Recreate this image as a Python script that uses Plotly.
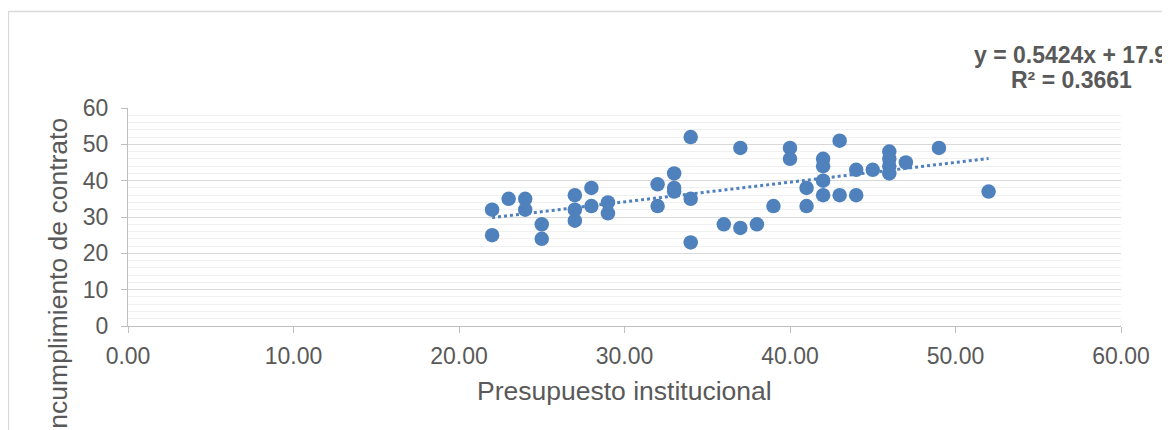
import plotly.graph_objects as go

# Data
presupuesto = [22, 22, 23, 24, 24, 25, 25, 27, 27, 27, 28, 28, 29, 29, 32, 32,
               33, 33, 33, 34, 34, 34, 36, 37, 37, 38, 39, 40, 40, 41, 41,
               42, 42, 42, 42, 43, 43, 44, 44, 45, 46, 46, 46, 46, 47, 49, 52]
incumplimiento = [32, 25, 35, 35, 32, 28, 24, 36, 32, 29, 38, 33, 34, 31, 39, 33,
                  42, 38, 37, 52, 35, 23, 28, 49, 27, 28, 33, 49, 46, 38, 33,
                  46, 44, 40, 36, 51, 36, 43, 36, 43, 48, 46, 44, 42, 45, 49, 37]

trend_slope = 0.5424
trend_intercept = 17.9
trend_x = [min(presupuesto), max(presupuesto)]
trend_y = [trend_slope * v + trend_intercept for v in trend_x]

x_ticks = [0, 10, 20, 30, 40, 50, 60]
x_ticklabels = ["0.00", "10.00", "20.00", "30.00", "40.00", "50.00", "60.00"]
y_ticks = [0, 10, 20, 30, 40, 50, 60]

eq_line1 = "y = 0.5424x + 17.9"
eq_line2 = "R² = 0.3661"
x_title = "Presupuesto institucional"
y_title = "Incumplimiento de contrato"

BLUE = "#4F81BD"
TXT = "#595959"
FONT = "Liberation Sans, Arial, sans-serif"

OFF = 8  # page body margin
W, H = 1170, 430
# target plot area in window pixels
PX0, PX1, PY0, PY1 = 128, 1121, 108, 326
L = PX0 - OFF
T = PY0 - OFF
pw = PX1 - PX0
ph = PY1 - PY0
R = W - L - pw
B = H - T - ph


def px_x(p):
    return (p - PX0) / pw


def px_y(p):
    return (PY1 - p) / ph


fig = go.Figure()
fig.add_trace(go.Scatter(
    x=trend_x, y=trend_y, mode="lines",
    line=dict(color=BLUE, width=3, dash="dot"),
    hoverinfo="skip", showlegend=False))
fig.add_trace(go.Scatter(
    x=presupuesto, y=incumplimiento, mode="markers",
    marker=dict(color=BLUE, size=14.5, line=dict(width=0)),
    showlegend=False))

fig.update_layout(
    width=W, height=H,
    margin=dict(l=L, r=R, t=T, b=B, pad=0),
    paper_bgcolor="white", plot_bgcolor="white",
    font=dict(family=FONT, color=TXT, size=23),
    xaxis=dict(range=[0, 60], tickvals=x_ticks, ticktext=x_ticklabels,
               showgrid=False, zeroline=False, showline=True,
               linecolor="#BFBFBF", linewidth=1.3,
               ticks="outside", ticklen=6, tickcolor="#BFBFBF",
               ticklabelstandoff=3,
               tickfont=dict(size=23, color=TXT, family=FONT)),
    yaxis=dict(range=[0, 60], tickvals=y_ticks,
               showgrid=True, gridcolor="#D9D9D9", gridwidth=1.3,
               zeroline=False, showline=True,
               linecolor="#BFBFBF", linewidth=1.3,
               ticks="outside", ticklen=6, tickcolor="#BFBFBF",
               ticklabelstandoff=8,
               tickfont=dict(size=23, color=TXT, family=FONT),
               minor=dict(dtick=2, showgrid=True, gridcolor="#F0F0F0",
                          gridwidth=1.3)),
)

# chart frame
fig.add_shape(type="rect", xref="paper", yref="paper",
              x0=px_x(8.5), x1=1.3, y0=-1.0, y1=px_y(11.5),
              line=dict(color="#D9D9D9", width=1.3), fillcolor="rgba(0,0,0,0)",
              layer="below")

fig.add_annotation(text=x_title, xref="paper", yref="paper",
                   x=px_x(624.5), y=px_y(391), xanchor="center", yanchor="middle",
                   showarrow=False, font=dict(size=26.5, color=TXT, family=FONT))
fig.add_annotation(text=y_title, xref="paper", yref="paper", textangle=-90,
                   x=px_x(58), y=px_y(277), xanchor="center", yanchor="middle",
                   showarrow=False, font=dict(size=26.5, color=TXT, family=FONT))
fig.add_annotation(text="<b>" + eq_line1 + "</b>", xref="paper", yref="paper",
                   x=px_x(972), y=px_y(55), xanchor="left", yanchor="middle",
                   showarrow=False, font=dict(size=23, color=TXT, family=FONT))
fig.add_annotation(text="<b>" + eq_line2 + "</b>", xref="paper", yref="paper",
                   x=px_x(1071), y=px_y(80), xanchor="center", yanchor="middle",
                   showarrow=False, font=dict(size=23, color=TXT, family=FONT))

fig.write_html("out.html")
